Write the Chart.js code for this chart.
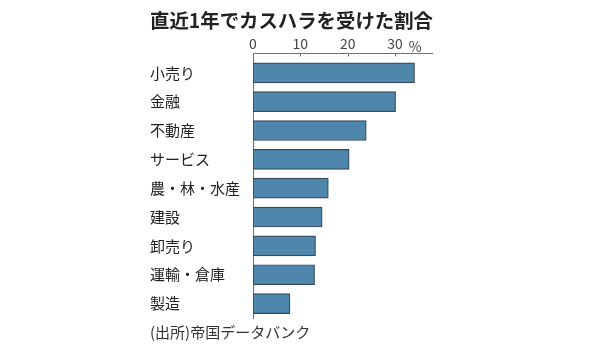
<!DOCTYPE html>
<html>
<head>
<meta charset="utf-8">
<script src="https://cdn.jsdelivr.net/npm/chart.js@4/dist/chart.umd.min.js"></script>
<style>
  html, body { margin: 0; padding: 0; background: #fff; }
  #wrap { width: 590px; height: 349px; }
</style>
</head>
<body>
<div id="wrap"><canvas id="c"></canvas></div>
<script>
// Share of companies that experienced customer harassment in the past year, by industry (%)
const categories = ['小売り', '金融', '不動産', 'サービス', '農・林・水産', '建設', '卸売り', '運輸・倉庫', '製造'];
const shares = [34.1, 30.1, 23.9, 20.3, 15.9, 14.6, 13.2, 13.0, 7.8];
const tickValues = [0, 10, 20, 30];
const titleText = '直近1年でカスハラを受けた割合';
const sourceText = '(出所)帝国データバンク';
const unitText = '%';

const FONT = "'Noto Sans CJK JP', 'Noto Sans', sans-serif";
Chart.defaults.font.family = FONT;

// Axis frame: top rule with inward ticks, vertical baseline at 0, unit label
const axisFrame = {
  id: 'axisFrame',
  beforeDatasetsDraw(chart) {
    const { ctx, chartArea, scales } = chart;
    const x = scales.x;
    const x0 = x.getPixelForValue(0);
    const topY = Math.round(chartArea.top - 5) + 0.5;
    ctx.save();
    ctx.strokeStyle = '#707070';
    ctx.lineWidth = 1;
    ctx.beginPath();
    ctx.moveTo(Math.round(x0) + 0.5, topY);
    ctx.lineTo(chartArea.right, topY);
    ctx.moveTo(Math.round(x0) + 0.5, topY);
    ctx.lineTo(Math.round(x0) + 0.5, chartArea.bottom + 1);
    tickValues.forEach(v => {
      if (v === 0) return;
      const px = Math.round(x.getPixelForValue(v)) + 0.5;
      ctx.moveTo(px, topY);
      ctx.lineTo(px, topY + 3);
    });
    ctx.stroke();
    ctx.fillStyle = '#444';
    ctx.font = '14px ' + FONT;
    ctx.textAlign = 'center';
    ctx.textBaseline = 'middle';
    ctx.fillText(unitText, x.getPixelForValue(30) + 20, chartArea.top - 12);
    ctx.restore();
  }
};

new Chart(document.getElementById('c'), {
  type: 'bar',
  data: {
    labels: categories,
    datasets: [{
      data: shares,
      backgroundColor: '#4e87ab',
      borderColor: '#36495a',
      borderWidth: 1.2,
      borderSkipped: false,
      barThickness: 20
    }]
  },
  options: {
    indexAxis: 'y',
    responsive: true,
    maintainAspectRatio: false,
    animation: false,
    devicePixelRatio: 1,
    layout: { padding: { left: 150, right: 157, top: 0, bottom: 8 } },
    plugins: {
      legend: { display: false },
      tooltip: { enabled: false },
      title: {
        display: true,
        text: titleText,
        color: '#222',
        font: { size: 19.5, weight: 'bold', family: FONT },
        padding: { top: 9, bottom: 0 }
      },
      subtitle: {
        display: true,
        position: 'bottom',
        align: 'start',
        text: sourceText,
        color: '#333',
        font: { size: 15, family: FONT },
        padding: { top: 5, bottom: 0 }
      }
    },
    scales: {
      x: {
        position: 'top',
        min: 0,
        max: 38,
        afterBuildTicks: s => { s.ticks = tickValues.map(v => ({ value: v })); },
        afterFit: s => { s.height = 26; },
        grid: { display: false, drawTicks: false },
        border: { display: false },
        ticks: { color: '#444', padding: 6, font: { size: 14, family: FONT } }
      },
      y: {
        afterFit: s => { s.width = 103; },
        grid: { display: false, drawTicks: false },
        border: { display: false },
        ticks: { color: '#222', crossAlign: 'far', padding: 0, font: { size: 15, family: FONT } }
      }
    }
  },
  plugins: [axisFrame]
});
</script>
</body>
</html>
